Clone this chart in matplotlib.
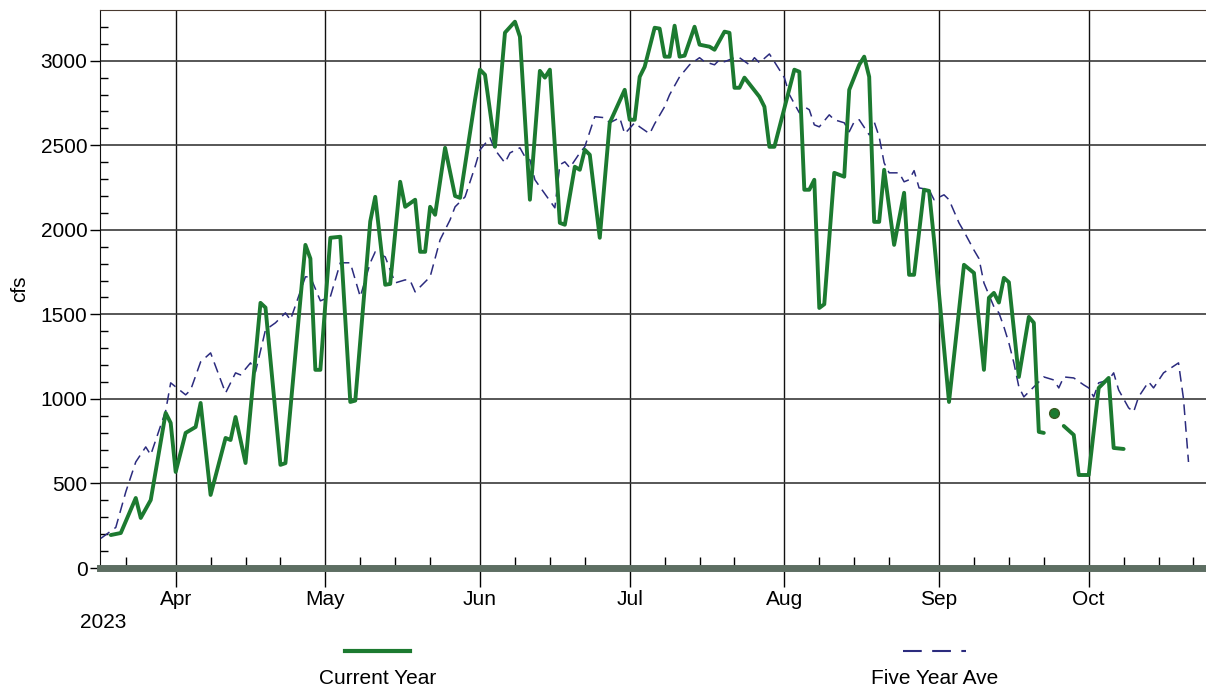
import matplotlib.pyplot as plt
import matplotlib.dates as mdates
from matplotlib.lines import Line2D
import numpy as np
import pandas as pd

# current year daily flow (cfs), vertices; nan = missing day
current_dates = [
    "2023-03-19", "2023-03-21", "2023-03-24", "2023-03-25", "2023-03-27", "2023-03-30",
    "2023-03-31", "2023-04-01", "2023-04-03", "2023-04-05", "2023-04-06", "2023-04-08",
    "2023-04-11", "2023-04-12", "2023-04-13", "2023-04-15", "2023-04-18", "2023-04-19",
    "2023-04-22", "2023-04-23", "2023-04-27", "2023-04-28", "2023-04-29", "2023-04-30",
    "2023-05-02", "2023-05-04", "2023-05-06", "2023-05-07", "2023-05-10", "2023-05-11",
    "2023-05-13", "2023-05-14", "2023-05-16", "2023-05-17", "2023-05-19", "2023-05-20",
    "2023-05-21", "2023-05-22", "2023-05-23", "2023-05-25", "2023-05-27", "2023-05-28",
    "2023-05-31", "2023-06-01", "2023-06-02", "2023-06-04", "2023-06-06", "2023-06-08",
    "2023-06-09", "2023-06-11", "2023-06-13", "2023-06-14", "2023-06-15", "2023-06-17",
    "2023-06-18", "2023-06-20", "2023-06-21", "2023-06-22", "2023-06-23", "2023-06-25",
    "2023-06-27", "2023-06-30", "2023-07-01", "2023-07-02", "2023-07-03", "2023-07-04",
    "2023-07-06", "2023-07-07", "2023-07-08", "2023-07-09", "2023-07-10", "2023-07-11",
    "2023-07-12", "2023-07-14", "2023-07-15", "2023-07-17", "2023-07-18", "2023-07-20",
    "2023-07-21", "2023-07-22", "2023-07-23", "2023-07-24", "2023-07-27", "2023-07-28",
    "2023-07-29", "2023-07-30", "2023-08-03", "2023-08-04", "2023-08-05", "2023-08-06",
    "2023-08-07", "2023-08-08", "2023-08-09", "2023-08-11", "2023-08-13", "2023-08-14",
    "2023-08-16", "2023-08-17", "2023-08-18", "2023-08-19", "2023-08-20", "2023-08-21",
    "2023-08-23", "2023-08-25", "2023-08-26", "2023-08-27", "2023-08-29", "2023-08-30",
    "2023-08-31", "2023-09-03", "2023-09-06", "2023-09-08", "2023-09-10", "2023-09-11",
    "2023-09-12", "2023-09-13", "2023-09-14", "2023-09-15", "2023-09-17", "2023-09-19",
    "2023-09-20", "2023-09-21", "2023-09-22", "2023-09-23", "2023-09-24", "2023-09-25",
    "2023-09-26", "2023-09-28", "2023-09-29", "2023-10-01", "2023-10-03", "2023-10-05",
    "2023-10-06", "2023-10-08",
]
current_cfs = [
    195, 207, 414, 296, 402, 917,
    858, 568, 799, 834, 976, 432,
    769, 757, 893, 621, 1568, 1540,
    610, 620, 1911, 1830, 1172, 1172,
    1953, 1959, 982, 990, 2050, 2195,
    1675, 1680, 2284, 2136, 2178, 1870,
    1870, 2136, 2089, 2485, 2200, 2189,
    2769, 2947, 2917, 2491, 3166, 3231,
    3142, 2178, 2940, 2900, 2947, 2041,
    2030, 2373, 2355, 2473, 2444, 1953,
    2633, 2828, 2651, 2651, 2905, 2964,
    3195, 3190, 3024, 3024, 3207, 3024,
    3030, 3201, 3095, 3083, 3065, 3172,
    3165, 2840, 2840, 2900, 2787, 2728,
    2491, 2491, 2947, 2935, 2237, 2237,
    2296, 1538, 1560, 2337, 2314, 2828,
    2976, 3024, 2905, 2047, 2047, 2355,
    1911, 2219, 1734, 1734, 2237, 2230,
    1941, 982, 1793, 1745, 1172, 1598,
    1627, 1570, 1716, 1690, 1130, 1485,
    1450, 805, 799, np.nan, 917, np.nan,
    840, 787, 550, 550, 1065, 1124,
    710, 704,
]

# five year average
avg_dates = [
    "2023-03-17", "2023-03-20", "2023-03-22", "2023-03-24", "2023-03-26", "2023-03-27",
    "2023-03-30", "2023-03-31", "2023-04-03", "2023-04-04", "2023-04-06", "2023-04-08",
    "2023-04-11", "2023-04-13", "2023-04-14", "2023-04-16", "2023-04-17", "2023-04-19",
    "2023-04-21", "2023-04-23", "2023-04-24", "2023-04-27", "2023-04-28", "2023-04-30",
    "2023-05-02", "2023-05-04", "2023-05-06", "2023-05-08", "2023-05-10", "2023-05-11",
    "2023-05-13", "2023-05-15", "2023-05-17", "2023-05-18", "2023-05-19", "2023-05-22",
    "2023-05-24", "2023-05-26", "2023-05-27", "2023-05-29", "2023-05-31", "2023-06-01",
    "2023-06-03", "2023-06-04", "2023-06-06", "2023-06-07", "2023-06-09", "2023-06-10",
    "2023-06-11", "2023-06-12", "2023-06-13", "2023-06-16", "2023-06-17", "2023-06-18",
    "2023-06-19", "2023-06-21", "2023-06-22", "2023-06-24", "2023-06-26", "2023-06-27",
    "2023-06-29", "2023-06-30", "2023-07-02", "2023-07-03", "2023-07-05", "2023-07-06",
    "2023-07-08", "2023-07-09", "2023-07-11", "2023-07-13", "2023-07-15", "2023-07-16",
    "2023-07-18", "2023-07-19", "2023-07-20", "2023-07-22", "2023-07-23", "2023-07-25",
    "2023-07-26", "2023-07-27", "2023-07-29", "2023-07-30", "2023-08-01", "2023-08-02",
    "2023-08-04", "2023-08-05", "2023-08-06", "2023-08-07", "2023-08-08", "2023-08-10",
    "2023-08-11", "2023-08-13", "2023-08-14", "2023-08-15", "2023-08-16", "2023-08-18",
    "2023-08-19", "2023-08-20", "2023-08-21", "2023-08-22", "2023-08-24", "2023-08-25",
    "2023-08-26", "2023-08-27", "2023-08-28", "2023-08-30", "2023-08-31", "2023-09-02",
    "2023-09-03", "2023-09-05", "2023-09-06", "2023-09-08", "2023-09-09", "2023-09-10",
    "2023-09-12", "2023-09-13", "2023-09-14", "2023-09-15", "2023-09-16", "2023-09-17",
    "2023-09-18", "2023-09-20", "2023-09-21", "2023-09-22", "2023-09-24", "2023-09-25",
    "2023-09-26", "2023-09-28", "2023-09-30", "2023-10-01", "2023-10-02", "2023-10-03",
    "2023-10-05", "2023-10-06", "2023-10-07", "2023-10-09", "2023-10-10", "2023-10-11",
    "2023-10-13", "2023-10-14", "2023-10-16", "2023-10-19", "2023-10-20", "2023-10-21",
]
avg_cfs = [
    175, 240, 450, 627, 716, 669,
    930, 1095, 1024, 1053, 1219, 1272,
    1035, 1154, 1142, 1213, 1160, 1408,
    1450, 1509, 1467, 1722, 1722, 1580,
    1604, 1805, 1805, 1604, 1805, 1870,
    1840, 1686, 1704, 1700, 1633, 1722,
    1941, 2059, 2136, 2195, 2373, 2473,
    2544, 2473, 2396, 2455, 2485, 2432,
    2414, 2296, 2254, 2130, 2385, 2402,
    2367, 2455, 2491, 2669, 2663, 2633,
    2663, 2568, 2633, 2609, 2568, 2627,
    2728, 2799, 2905, 2976, 3018, 2994,
    2976, 3006, 2994, 3018, 3018, 2976,
    3018, 2988, 3040, 2994, 2900, 2800,
    2692, 2728, 2710, 2621, 2609, 2680,
    2651, 2633, 2580, 2639, 2651, 2562,
    2639, 2550, 2396, 2337, 2337, 2284,
    2296, 2350, 2248, 2237, 2178, 2207,
    2178, 2041, 1990, 1880, 1830, 1686,
    1545, 1509, 1426, 1331, 1213, 1071,
    1012, 1071, 1101, 1130, 1112, 1065,
    1130, 1124, 1083, 1065, 1012, 1095,
    1112, 1154, 1053, 947, 923, 1012,
    1101, 1065, 1154, 1213, 1000, 627,
]

cur_x = pd.to_datetime(current_dates)
cur_y = np.array(current_cfs, dtype=float)
avg_x = pd.to_datetime(avg_dates)

green = "#1c7a30"
navy = "#2b2b7e"

plt.rcParams["font.family"] = ["Liberation Sans", "DejaVu Sans"]
fig = plt.figure(figsize=(12.06, 6.88), dpi=100)
ax = fig.add_axes([100 / 1206, 120 / 688, 1 - 100 / 1206 + 0.001, 558 / 688])

ax.plot(avg_x, avg_cfs, color=navy, lw=1.1, dashes=(7, 4), zorder=3)
ax.plot(cur_x, cur_y, color=green, lw=2.8, zorder=4,
        solid_joinstyle="round", solid_capstyle="round")

# lone reading with no neighbours gets a dot
for i in range(1, len(cur_y) - 1):
    if not np.isnan(cur_y[i]) and np.isnan(cur_y[i - 1]) and np.isnan(cur_y[i + 1]):
        ax.plot(cur_x[i], cur_y[i], "o", color=green, ms=7, mec="#3a5a20", zorder=5)

ax.set_xlim(pd.Timestamp("2023-03-16 20:00"), pd.Timestamp("2023-10-24 18:00"))
ax.set_ylim(0, 3300)

ax.set_yticks(range(0, 3001, 500))
ax.set_yticks(range(0, 3300, 100), minor=True)
ax.xaxis.set_major_locator(mdates.MonthLocator())
ax.xaxis.set_major_formatter(mdates.DateFormatter("%b"))
ax.xaxis.set_minor_locator(mdates.DayLocator(bymonthday=[8, 15, 22]))

ax.grid(axis="y", which="major", color="#3a3a3a", lw=1.2)
ax.grid(axis="x", which="major", color="#111111", lw=1.0)
ax.set_axisbelow(True)

ax.tick_params(axis="y", which="major", direction="out", length=7, width=1, labelsize=15, pad=2)
ax.tick_params(axis="y", which="minor", direction="in", length=6, width=1)
ax.tick_params(axis="x", which="major", direction="out", length=14, width=1, labelsize=15, pad=2)
ax.tick_params(axis="x", which="minor", direction="in", length=8, width=1)

ax.spines["right"].set_visible(False)
ax.spines["top"].set_color("#4a3a30")
ax.spines["left"].set_color("#111111")
ax.spines["bottom"].set_color("#5d6e62")
ax.spines["bottom"].set_linewidth(5)

ax.set_ylabel("cfs", fontsize=15, labelpad=8)
fig.text(80 / 1206, 1 - 623 / 688, "2023", fontsize=15, ha="left", va="center")

# legend drawn by hand under the axes
fig.add_artist(Line2D([345 / 1206, 410 / 1206], [1 - 651 / 688] * 2, color=green, lw=3))
fig.text(378 / 1206, 1 - 678 / 688, "Current Year", fontsize=15, ha="center", va="center")
fig.add_artist(Line2D([903 / 1206, 966 / 1206], [1 - 651 / 688] * 2, color=navy, lw=1.5, dashes=(9, 5)))
fig.text(935 / 1206, 1 - 678 / 688, "Five Year Ave", fontsize=15, ha="center", va="center")

fig.savefig("out.png", dpi=100)
